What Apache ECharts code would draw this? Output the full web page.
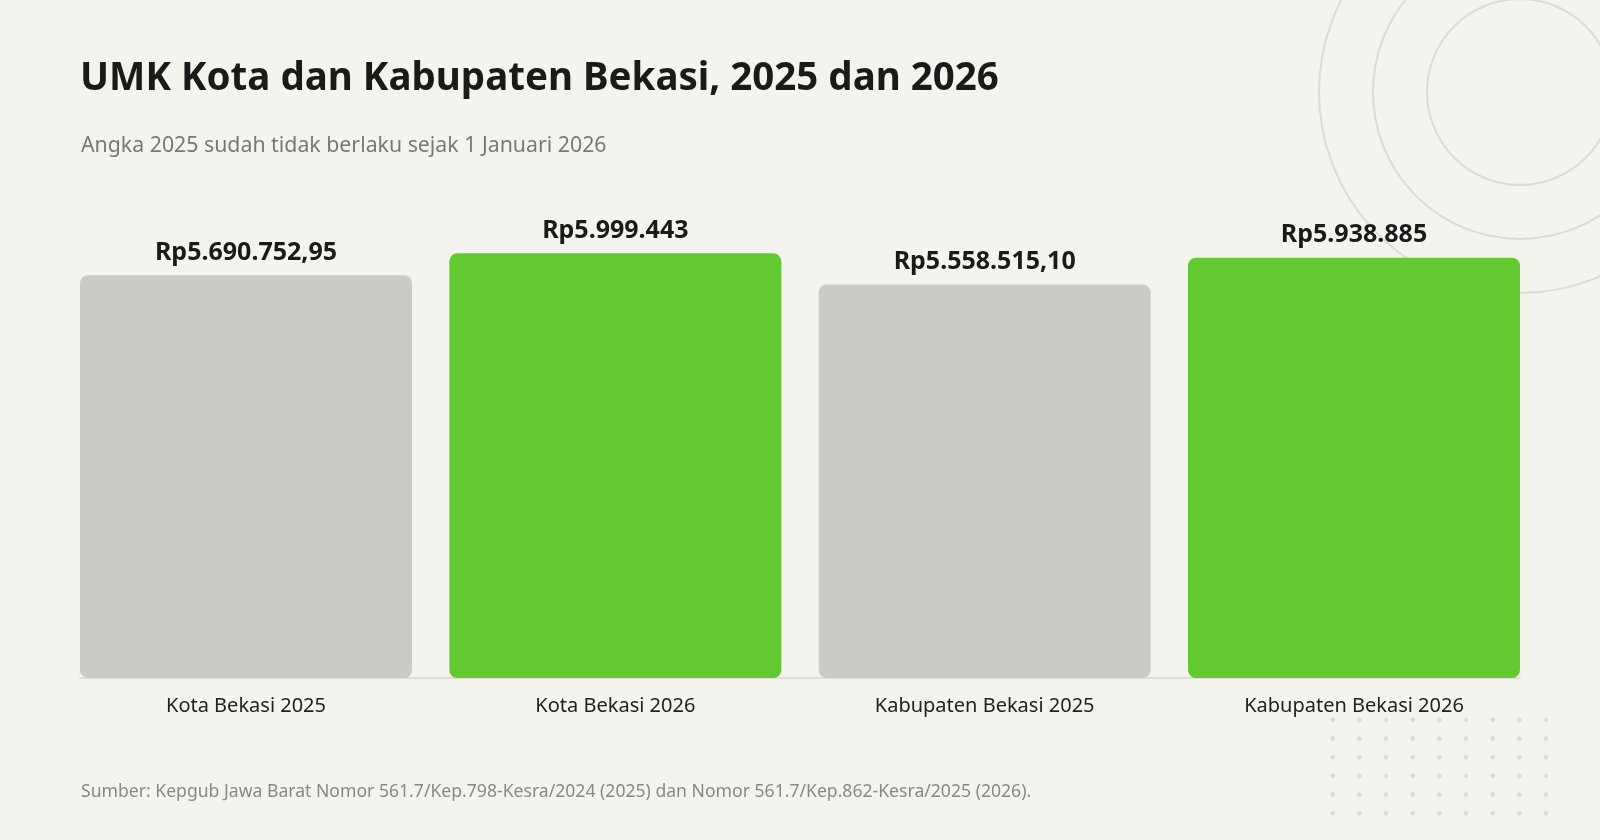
<!DOCTYPE html>
<html>
<head>
<meta charset="utf-8">
<script src="https://cdn.jsdelivr.net/npm/echarts@6/dist/echarts.min.js"></script>
<style>
  html, body { margin: 0; padding: 0; background: #f4f4ef; }
  #chart { width: 1600px; height: 840px; }
</style>
</head>
<body>
<div id="chart"></div>
<script>
const categories = ['Kota Bekasi 2025', 'Kota Bekasi 2026', 'Kabupaten Bekasi 2025', 'Kabupaten Bekasi 2026'];
const values = [5690752.95, 5999443, 5558515.10, 5938885];
const valueLabels = ['Rp5.690.752,95', 'Rp5.999.443', 'Rp5.558.515,10', 'Rp5.938.885'];
const titleText = 'UMK Kota dan Kabupaten Bekasi, 2025 dan 2026';
const subtitleText = 'Angka 2025 sudah tidak berlaku sejak 1 Januari 2026';
const sourceText = 'Sumber: Kepgub Jawa Barat Nomor 561.7/Kep.798-Kesra/2024 (2025) dan Nomor 561.7/Kep.862-Kesra/2025 (2026).';

const FONT = '"Noto Sans", "Open Sans", sans-serif';
const GRAY = '#cbcbc6';
const GREEN = '#62c930';
const DECO = '#dcdcd6';

// decorative elements (background, not data)
const deco = [];
[93, 147, 201].forEach(r => {
  deco.push({ type: 'circle', z: 0, silent: true,
    shape: { cx: 1520, cy: 92, r: r },
    style: { fill: 'none', stroke: DECO, lineWidth: 2 } });
});
for (let i = 0; i < 9; i++) {
  for (let j = 0; j < 6; j++) {
    deco.push({ type: 'circle', z: 0, silent: true,
      shape: { cx: 1332.7 + i * 26.67, cy: 720 + j * 18.67, r: 2.4 },
      style: { fill: DECO } });
  }
}

const chart = echarts.init(document.getElementById('chart'));
chart.setOption({
  backgroundColor: '#f4f4ef',
  animation: false,
  graphic: deco,
  title: [
    { text: titleText, left: 75, top: 55,
      textStyle: { fontFamily: FONT, fontSize: 38.5, fontWeight: 'bold', color: '#1a1a1a' } },
    { text: subtitleText, left: 76, top: 130,
      textStyle: { fontFamily: FONT, fontSize: 21.3, fontWeight: 'normal', color: '#787878' } },
    { text: sourceText, left: 76, top: 778,
      textStyle: { fontFamily: FONT, fontSize: 17.6, fontWeight: 'normal', color: '#888888' } }
  ],
  grid: [
    { left: 61.33, right: 61.33, top: 253.3, bottom: 162 },
    { left: 80, right: 80, top: 253.3, bottom: 162 }
  ],
  xAxis: [
    { type: 'category', gridIndex: 0, data: categories,
      axisLine: { show: false }, axisTick: { show: false },
      axisLabel: { margin: 18, fontFamily: FONT, fontSize: 20, color: '#222222' } },
    { type: 'category', gridIndex: 1, data: [''],
      axisLine: { show: true, lineStyle: { color: '#deded9', width: 2 } },
      axisTick: { show: false }, axisLabel: { show: false } }
  ],
  yAxis: [
    { type: 'value', gridIndex: 0, min: 0, max: 6000000, show: false, splitLine: { show: false } },
    { type: 'value', gridIndex: 1, min: 0, max: 6000000, show: false, splitLine: { show: false } }
  ],
  series: [{
    type: 'bar',
    xAxisIndex: 0, yAxisIndex: 0,
    z: 3,
    data: values,
    barWidth: 332,
    itemStyle: {
      borderRadius: 8,
      color: p => (p.dataIndex % 2 === 0 ? GRAY : GREEN)
    },
    label: {
      show: true, position: 'top', distance: 10,
      formatter: p => valueLabels[p.dataIndex],
      fontFamily: FONT, fontSize: 25, fontWeight: 'bold', color: '#1a1a1a'
    }
  }]
});
</script>
</body>
</html>
